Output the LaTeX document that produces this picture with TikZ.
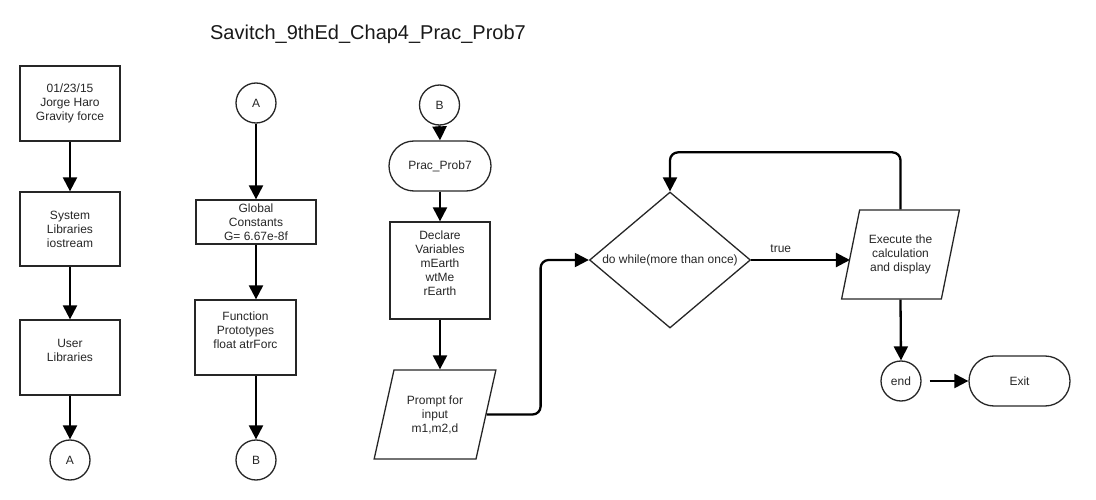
\documentclass[tikz,border=0pt]{standalone}
\usepackage{fontspec}
\setmainfont{Liberation Sans}
\usetikzlibrary{shapes.geometric,arrows.meta}
\tikzset{
  box/.style={rectangle, draw=black!85, line width=1.3pt, align=center, inner sep=2pt,
    text=black!85, font=\fontsize{12}{14}\selectfont},
  conn/.style={box, circle, minimum size=40pt, inner sep=0pt},
  term/.style={box, rounded corners=25pt, minimum width=101pt, minimum height=50pt},
  io/.style={box, trapezium, trapezium left angle=71, trapezium right angle=109,
    trapezium stretches=true, minimum height=89pt},
  decide/.style={box, diamond, aspect=1.18, inner sep=0pt, minimum width=161pt, minimum height=136pt},
  arr/.style={-{Triangle[length=14pt,width=14pt]}, line width=2.3pt},
}
\begin{document}
\begin{tikzpicture}[x=1pt, y=-1pt]
  \useasboundingbox (0,0) rectangle (1096,500);
  \node[text=black!90, font=\fontsize{20}{24}\selectfont] (title) at (368,34) {Savitch\_9thEd\_Chap4\_Prac\_Prob7};

  % First column - header and libraries
  \begin{scope}
    \node[box, minimum width=100pt, minimum height=75pt] (b1) at (70,103.5) {01/23/15\\Jorge Haro\\Gravity force};
    \node[box, minimum width=100pt, minimum height=74pt] (b2) at (70,229) {System\\Libraries\\iostream};
    \node[box, minimum width=100pt, minimum height=75pt] (b3) at (70,357.5) {User\\Libraries\\\mbox{}};
    \node[conn] (a1) at (70,460) {A};

    \draw[arr] (b1.south) -- (b2.north);
    \draw[arr] (b2.south) -- (b3.north);
    \draw[arr] (b3.south) -- (a1.north);
  \end{scope}

  % Second column - constants and prototypes
  \begin{scope}
    \node[conn] (a2) at (256,103) {A};
    \node[box, minimum width=120pt, minimum height=44pt] (glob) at (256,222) {Global\\Constants\\G= 6.67e-8f};
    \node[box, minimum width=101pt, minimum height=75pt] (func) at (245.5,337.5) {Function\\Prototypes\\float atrForc\\\mbox{}};
    \node[conn] (b2c) at (256,460) {B};

    \draw[arr] (a2.south) -- (glob.north);
    \draw[arr] (glob.south) -- (glob.south |- func.north);
    \draw[arr] (b2c |- func.south) -- (b2c.north);
  \end{scope}

  % Third column - main program
  \begin{scope}
    \node[conn] (b3c) at (439.5,105) {B};
    \node[term, minimum width=102pt] (prac) at (440,166) {Prac\_Prob7};
    \node[box, minimum width=100pt, minimum height=97pt] (decl) at (440,270.5) {Declare\\Variables\\mEarth\\wtMe\\rEarth\\\mbox{}};
    \node[io, minimum width=122pt] (prompt) at (435,414.5) {Prompt for\\input\\m1,m2,d};

    \draw[arr] (b3c.south) -- (prac.north);
    \draw[arr] (prac.south) -- (decl.north);
    \draw[arr] (decl.south) -- (decl.south |- prompt.north);
  \end{scope}

  % Loop - decision, calculation and exit
  \begin{scope}
    \node[decide] (dowhile) at (670,260) {do while(more than once)};
    \node[io, minimum width=119pt] (exec) at (900.5,254.5) {Execute the\\calculation\\and display};
    \node[conn] (endc) at (901,381) {end};
    \node[term] (exitt) at (1019.5,381) {Exit};

    \draw[arr, rounded corners=8pt] (prompt.east) -- ++(54,0) |- (dowhile.west);
    \draw[arr] (dowhile.east) -- node[pos=0.3, above=3pt, text=black!85, font=\fontsize{12}{14}\selectfont] {true} (dowhile.east -| exec.west);
    \draw[arr, rounded corners=8pt] (exec.north -| exec.center) -- ++(0,-57) -| (dowhile.north);
    \draw[arr] (exec.south -| exec.center) -- (endc.north);
    \draw[arr, shorten <=8pt] (endc.east) -- (exitt.west);
  \end{scope}
\end{tikzpicture}
\end{document}
